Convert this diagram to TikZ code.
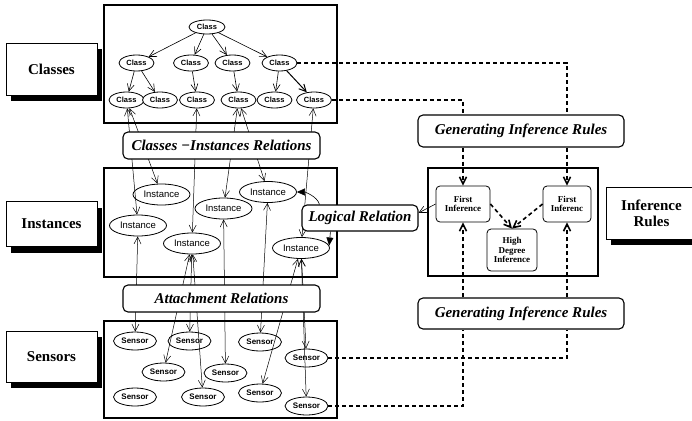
\documentclass[tikz,border=0pt]{standalone}
\usepackage{fontspec}
\setmainfont{Liberation Serif}
\newfontfamily\arialfont{Liberation Sans}
\usetikzlibrary{arrows.meta,shapes.geometric,shadows}
\begin{document}
\begin{tikzpicture}[x=1pt,y=-1pt,
  >={Straight Barb[length=7pt,width=7pt]},
  frame/.style={draw,line width=1.8pt,fill=white},
  layerlabel/.style={draw,line width=0.6pt,fill=white,minimum width=91pt,inner sep=0pt,
    align=center,font=\fontsize{15}{16}\selectfont\bfseries,
    drop shadow={shadow xshift=5pt,shadow yshift=-6pt,fill=black,opacity=1}},
  classnode/.style={ellipse,draw,line width=0.8pt,fill=white,minimum width=35pt,
    minimum height=16pt,inner sep=0pt,font=\arialfont\fontsize{7.5}{8}\selectfont\bfseries},
  instnode/.style={ellipse,draw,line width=0.8pt,fill=white,minimum width=57pt,
    minimum height=21pt,inner sep=0pt,font=\arialfont\fontsize{9.5}{10}\selectfont},
  sensnode/.style={ellipse,draw,line width=0.8pt,fill=white,minimum width=43pt,
    minimum height=18pt,inner sep=0pt,font=\arialfont\fontsize{8}{9}\selectfont\bfseries},
  relbox/.style={draw,rounded corners=5pt,line width=1.1pt,fill=white,inner sep=0pt,
    font=\fontsize{15}{17}\selectfont\bfseries\itshape},
  infnode/.style={draw,rounded corners=4pt,line width=0.8pt,fill=white,inner sep=0pt,
    align=center,font=\fontsize{9}{9.5}\selectfont\bfseries},
  tree/.style={line width=0.6pt,->},
  link/.style={line width=0.5pt,<->},
  ruleline/.style={line width=1.6pt,dash pattern=on 4pt off 3pt},
  solidtri/.style={line width=0.6pt,-{Triangle[length=8pt,width=7pt]}}]

\useasboundingbox (0,0) rectangle (692,420);

% layer frames
\draw[frame] (104,5) rectangle (337,123);
\draw[frame] (104,168) rectangle (337,277);
\draw[frame] (104,321) rectangle (337,418);

% layer labels
\node[layerlabel,minimum height=52pt] (lc) at (51.5,69) {Classes};
\node[layerlabel,minimum height=45pt] (li) at (51.5,224) {Instances};
\node[layerlabel,minimum height=51pt] (ls) at (51.5,356.5) {Sensors};
\node[layerlabel,minimum height=52pt] (lir) at (651.5,213) {Inference\\Rules};

% class hierarchy
\node[classnode,minimum width=36pt,minimum height=14pt] (c0) at (207,27) {Class};
\node[classnode] (c2a) at (136.5,63) {Class};
\node[classnode] (c2b) at (191,63) {Class};
\node[classnode] (c2c) at (232.5,63) {Class};
\node[classnode] (c2d) at (279.5,63) {Class};
\node[classnode] (c3a) at (126.5,100) {Class};
\node[classnode] (c3b) at (160,100) {Class};
\node[classnode] (c3c) at (197,100) {Class};
\node[classnode] (c3d) at (238.5,100) {Class};
\node[classnode] (c3e) at (274.5,100) {Class};
\node[classnode] (c3f) at (314,100) {Class};

\foreach \t in {c2a,c2b,c2c,c2d} \draw[tree] (c0) -- (\t);
\draw[tree] (c2a) -- (c3a);
\draw[tree] (c2a) -- (c3b);
\draw[tree] (c2b) -- (c3c);
\draw[tree] (c2c) -- (c3d);
\draw[tree] (c2d) -- (c3e);
\draw[tree,line width=1pt] (c2d) -- (c3f);

% instances
\node[instnode] (i1) at (161.5,194.5) {Instance};
\node[instnode] (i2) at (138,225.5) {Instance};
\node[instnode] (i3) at (223.5,208.5) {Instance};
\node[instnode] (i4) at (192,243.5) {Instance};
\node[instnode] (i5) at (268,192) {Instance};
\node[instnode] (i6) at (301,248) {Instance};

% sensors
\node[sensnode] (s1) at (135,341) {Sensor};
\node[sensnode] (s2) at (189.5,341) {Sensor};
\node[sensnode] (s3) at (260,342) {Sensor};
\node[sensnode] (s4) at (163.5,372) {Sensor};
\node[sensnode] (s5) at (225.5,373) {Sensor};
\node[sensnode] (s6) at (306.5,358) {Sensor};
\node[sensnode] (s7) at (135,397) {Sensor};
\node[sensnode] (s8) at (203,397) {Sensor};
\node[sensnode] (s9) at (260,393) {Sensor};
\node[sensnode] (s10) at (306.5,406) {Sensor};

% class -- instance links
\draw[link] (c3a) -- (i1);
\draw[link] (c3a) -- (i2);
\draw[link] (c3c) -- (i4);
\draw[link] (c3d) -- (i3);
\draw[link] (c3d) -- (i5);
\draw[link] (c3f) -- (i6);

% instance -- sensor links
\draw[link] (i2) -- (s1);
\draw[link] (i4) -- (s4);
\draw[link] (i4) -- (s2);
\draw[link] (i4) -- (s8);
\draw[link] (i3) -- (s5);
\draw[link] (i5) -- (s3);
\draw[link] (i6) -- (s9);
\draw[link] (i6) -- (s6);
\draw[link] (i6) -- (s10);

% relation labels
\node[relbox,minimum width=197pt,minimum height=27pt] (cir) at (221.5,145.5)
  {Classes −Instances Relations};
\node[relbox,minimum width=197pt,minimum height=27pt] (att) at (221.5,298.5)
  {Attachment Relations};

% inference rules block
\draw[frame] (428,168) rectangle (598,276);
\node[infnode,minimum width=54pt,minimum height=36pt] (fi1) at (463,204) {First\\Inference};
\node[infnode,minimum width=48pt,minimum height=36pt] (fi2) at (567,204) {First\\Inferenc};
\node[infnode,minimum width=50pt,minimum height=42pt] (hd) at (512,250) {High\\Degree\\Inference};

\node[relbox,minimum width=206pt,minimum height=32pt] (gir1) at (521,131)
  {Generating Inference Rules};
\node[relbox,minimum width=206pt,minimum height=31pt] (gir2) at (521,313.5)
  {Generating Inference Rules};

% rule generation paths
\draw[ruleline] (c2d.east) -| (gir1.north -| fi2.north);
\draw[ruleline] (c3f.east) -| (gir1.north -| fi1.north);
\draw[ruleline,->] (gir1.south -| fi2.north) -- (fi2.north);
\draw[ruleline,->] (gir1.south -| fi1.north) -- (fi1.north);
\draw[ruleline] (s6.east) -| (gir2.south -| fi2.south);
\draw[ruleline] (s10.east) -| (gir2.south -| fi1.south);
\draw[ruleline,->] (gir2.north -| fi2.south) -- (fi2.south);
\draw[ruleline,->] (gir2.north -| fi1.south) -- (fi1.south);
\draw[ruleline,->] (fi1.east) -- (hd.north);
\draw[ruleline,->] (fi2.west) -- (hd.north);

% logical relation
\node[relbox,minimum width=116pt,minimum height=26pt] (lr) at (360,218) {Logical Relation};
\draw[tree] (fi1.west) -- (lr.5);
\draw[solidtri] ([xshift=18pt]lr.north west) .. controls +(-2,-8) and +(8,0) .. (i5.east);
\draw[solidtri] ([xshift=29pt]lr.south west) -- (i6.5);

\end{tikzpicture}
\end{document}
